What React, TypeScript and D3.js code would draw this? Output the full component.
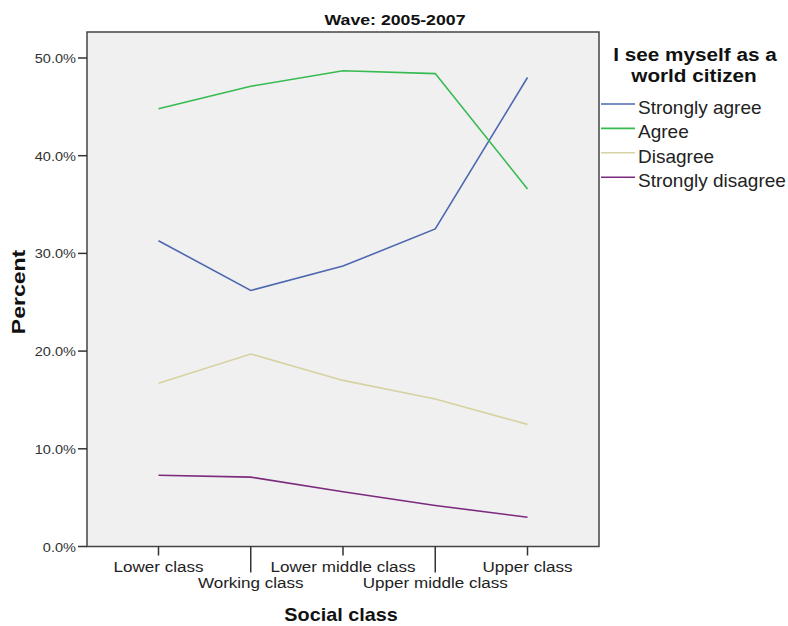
import React from "react";
import * as d3 from "d3";

const categories = ["Lower class", "Working class", "Lower middle class", "Upper middle class", "Upper class"];
const seriesNames = ["Strongly agree", "Agree", "Disagree", "Strongly disagree"];
const stronglyAgree = [31.3, 26.2, 28.7, 32.5, 48.0];
const agree = [44.8, 47.1, 48.7, 48.4, 36.6];
const disagree = [16.7, 19.7, 17.0, 15.1, 12.5];
const stronglyDisagree = [7.3, 7.1, 5.6, 4.2, 3.0];
const yTicks = [0, 10, 20, 30, 40, 50];
const colors = ["#4d67b0", "#36bb50", "#d6d2a2", "#7c2a7d"];

type TP = { x: number; y: number; sx?: number; rot?: number; anchor?: string; size: number; bold?: boolean; fill?: string; children: React.ReactNode };
function T({ x, y, sx = 1, rot = 0, anchor = "start", size, bold, fill = "#222", children }: TP) {
  return (
    <text
      transform={`translate(${x},${y}) rotate(${rot}) scale(${sx},1)`}
      textAnchor={anchor}
      fontSize={size}
      fontWeight={bold ? "bold" : "normal"}
      fill={fill}
    >
      {children}
    </text>
  );
}

export default function App() {
  const W = 788, H = 626;
  const left = 87, right = 599, top = 32, bottom = 546.5;
  const x = d3.scalePoint<string>().domain(categories).range([left, right]).padding(0.775);
  const y = d3.scaleLinear().domain([0, 52.66]).range([bottom, top]);
  const data = [stronglyAgree, agree, disagree, stronglyDisagree];
  const line = d3.line<number>().x((_, i) => x(categories[i])!).y((d) => y(d));
  const font = "'Liberation Sans', Arial, sans-serif";
  return (
    <svg width={W} height={H} style={{ position: "absolute", left: 0, top: 0, fontFamily: font }}>
      <rect x={0} y={0} width={W} height={H} fill="#fff" />
      <T x={395} y={25} anchor="middle" size={15} bold sx={1.18} fill="#111">Wave: 2005-2007</T>
      <rect x={left} y={top} width={right - left} height={bottom - top} fill="#f0f0f0" stroke="#444" strokeWidth={1.5} />
      {yTicks.map((t) => (
        <g key={t}>
          <line x1={left - 9} x2={left} y1={y(t)} y2={y(t)} stroke="#333" strokeWidth={1.5} />
          <T x={left - 11} y={y(t) + 5} anchor="end" size={13} sx={1.12} fill="#333">{t.toFixed(1) + "%"}</T>
        </g>
      ))}
      {categories.map((c, i) => (
        <g key={c}>
          <line x1={x(c)} x2={x(c)} y1={bottom} y2={bottom + (i % 2 === 0 ? 9 : 26)} stroke="#333" strokeWidth={1.5} />
          <T x={x(c)!} y={i % 2 === 0 ? 572 : 588} anchor="middle" size={15.5} sx={1.1}>{c}</T>
        </g>
      ))}
      {data.map((s, i) => (
        <path key={i} d={line(s)!} fill="none" stroke={colors[i]} strokeWidth={1.6} />
      ))}
      <T x={25} y={292} rot={-90} anchor="middle" size={18} bold sx={1.28} fill="#111">Percent</T>
      <T x={341} y={621} anchor="middle" size={18} bold sx={1.1} fill="#111">Social class</T>
      <T x={695} y={61} anchor="middle" size={18.5} bold sx={1.12} fill="#111">I see myself as a</T>
      <T x={694} y={82} anchor="middle" size={18.5} bold sx={1.12} fill="#111">world citizen</T>
      {seriesNames.map((n, i) => (
        <g key={n}>
          <line x1={601} x2={635} y1={104 + i * 24.4} y2={104 + i * 24.4} stroke={colors[i]} strokeWidth={1.6} />
          <T x={638} y={114 + i * 24.3} size={19}>{n}</T>
        </g>
      ))}
    </svg>
  );
}
